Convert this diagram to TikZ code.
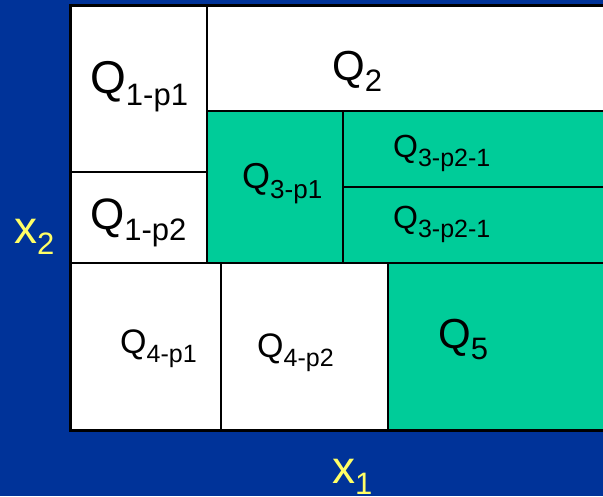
\documentclass[tikz,border=0pt]{standalone}
\usepackage{fontspec}
\setmainfont{Liberation Sans}
\definecolor{bgblue}{HTML}{003399}
\definecolor{cellgreen}{HTML}{00CC99}
\definecolor{labyellow}{HTML}{FFFF66}
\newcommand\lab[5]{{\fontsize{#1pt}{#1pt}\selectfont #4}\raisebox{-#3pt}{\fontsize{#2pt}{#2pt}\selectfont #5}}
\tikzset{
  outer/.style={line width=3pt, line cap=rect},
  inner/.style={line width=2pt},
  qlab/.style={anchor=base west, inner sep=0pt, text=black},
  axlab/.style={anchor=base west, inner sep=0pt, text=labyellow}
}
\begin{document}
\begin{tikzpicture}[x=1pt,y=-1pt]
\useasboundingbox (0,0) rectangle (603,496);
\fill[bgblue] (0,0) rectangle (603,496);
\fill[white] (70,5) rectangle (603,430);
\fill[cellgreen] (207,111) rectangle (603,263);
\fill[cellgreen] (388,263) rectangle (603,430);
% inner lines
\draw[inner] (207,5) -- (207,263);
\draw[inner] (70,172) -- (207,172);
\draw[inner] (207,111) -- (603,111);
\draw[inner] (343,111) -- (343,263);
\draw[inner] (343,187) -- (603,187);
\draw[inner] (70,263) -- (603,263);
\draw[inner] (221,263) -- (221,430);
\draw[inner] (388,263) -- (388,430);
% outer border
\draw[outer] (604,5) -- (70,5) -- (70,430) -- (604,430);
% labels
\node[qlab] (q1p1) at (90,93) {\lab{46}{31}{12}{Q}{1-p1}};
\node[qlab] (q2) at (332,80) {\lab{42}{31}{11}{Q}{2}};
\node[qlab] (q1p2) at (90,229) {\lab{44}{31}{11}{Q}{1-p2}};
\node[qlab] (q3p1) at (242,188) {\lab{36}{26}{10}{Q}{3-p1}};
\node[qlab] (q3p21a) at (393,157) {\lab{32}{25}{9}{Q}{3-p2-1}};
\node[qlab] (q3p21b) at (393,228) {\lab{32}{25}{9}{Q}{3-p2-1}};
\node[qlab] (q4p1) at (120,353) {\lab{34}{25}{9}{Q}{4-p1}};
\node[qlab] (q4p2) at (257,357) {\lab{34}{25}{9}{Q}{4-p2}};
\node[qlab] (q5) at (438,348) {\lab{42}{31}{11}{Q}{5}};
\node[axlab] (xtwo) at (14,243) {\lab{46}{31}{11}{x}{2}};
\node[axlab] (xone) at (332,483) {\lab{46}{31}{11}{x}{1}};
\end{tikzpicture}
\end{document}
